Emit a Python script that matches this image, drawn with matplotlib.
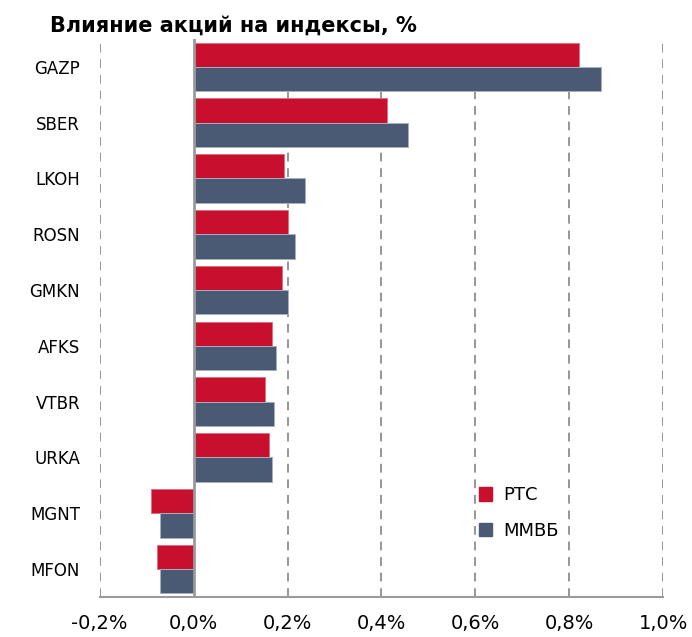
import matplotlib
matplotlib.use("Agg")
import matplotlib.pyplot as plt
from matplotlib.patches import Patch
from matplotlib.ticker import FuncFormatter
import numpy as np

# ── data (values in %) ────────────────────────────────────────────────────────
tickers = ["GAZP", "SBER", "LKOH", "ROSN", "GMKN", "AFKS", "VTBR", "URKA", "MGNT", "MFON"]
rts  = [0.821, 0.411, 0.193, 0.200, 0.188, 0.168, 0.152, 0.160, -0.091, -0.078]
mmvb = [0.866, 0.456, 0.237, 0.217, 0.200, 0.176, 0.172, 0.168, -0.071, -0.071]
series_names = ["РТС", "ММВБ"]
x_ticks = [-0.2, 0.0, 0.2, 0.4, 0.6, 0.8, 1.0]

RED = "#C8102E"
BLUE = "#4B5A74"
GRID = "#969696"

plt.rcParams["font.family"] = ["DejaVu Sans"]

fig = plt.figure(figsize=(6.92, 6.37), dpi=100)
ax = fig.add_axes([0.1438, 0.0628, 0.8150, 0.8760])

y = np.arange(len(tickers))
h = 0.435
ax.barh(y - h / 2, rts, height=h, color=RED, edgecolor="#E07080", linewidth=0.7, zorder=3)
ax.barh(y + h / 2, mmvb, height=h, color=BLUE, edgecolor="#A8B0C0", linewidth=0.7, zorder=3)

ax.set_ylim(len(tickers) - 0.5, -0.5)
ax.set_xlim(-0.2, 1.0)

# dashed gridlines everywhere except zero, solid line at zero
for xv in x_ticks:
    if xv == 0:
        continue
    ax.axvline(xv, color=GRID, linestyle=(0, (4.5, 3.5)), linewidth=1.4, zorder=1)
ax.axvline(0, color="#9A9A9A", linewidth=2.0, zorder=4)

for side in ("top", "right", "left"):
    ax.spines[side].set_visible(False)
ax.spines["bottom"].set_color("#9A9A9A")
ax.spines["bottom"].set_linewidth(1.5)

ax.set_yticks(y)
ax.set_yticklabels(tickers, fontsize=12)
ax.tick_params(axis="y", length=0, pad=14)
ax.set_xticks(x_ticks)
ax.xaxis.set_major_formatter(FuncFormatter(lambda v, _: f"{v:.1f}%".replace(".", ",")))
ax.tick_params(axis="x", length=0, pad=12, labelsize=14)

fig.text(0.072, 0.96, "Влияние акций на индексы, %", fontsize=15,
         fontweight="bold", ha="left", va="center")

handles = [Patch(facecolor=RED, edgecolor=RED), Patch(facecolor=BLUE, edgecolor=BLUE)]
fig.legend(handles, series_names, loc="upper left", bbox_to_anchor=(0.668, 0.262),
           frameon=False, fontsize=13, handlelength=0.75, handleheight=0.75,
           handletextpad=0.6, labelspacing=0.95)

fig.savefig("out.png", dpi=100)
